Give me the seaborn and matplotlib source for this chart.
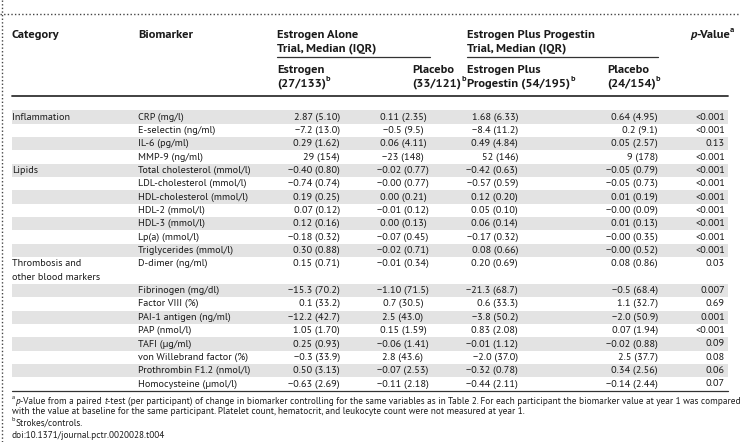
import matplotlib
matplotlib.use("Agg")
import matplotlib.pyplot as plt
from matplotlib.patches import Rectangle
from matplotlib import font_manager as fm
import seaborn as sns

# ---------------- data ----------------
categories = ["Inflammation", "Lipids", "Thrombosis and\nother blood markers"]
category_first_row = [0, 4, 11]

biomarkers = ["CRP (mg/l)", "E-selectin (ng/ml)", "IL-6 (pg/ml)", "MMP-9 (ng/ml)",
              "Total cholesterol (mmol/l)", "LDL-cholesterol (mmol/l)",
              "HDL-cholesterol (mmol/l)", "HDL-2 (mmol/l)", "HDL-3 (mmol/l)",
              "Lp(a) (mmol/l)", "Triglycerides (mmol/l)", "D-dimer (ng/ml)",
              "Fibrinogen (mg/dl)", "Factor VIII (%)", "PAI-1 antigen (ng/ml)",
              "PAP (nmol/l)", "TAFI (\u03bcg/ml)", "von Willebrand factor (%)",
              "Prothrombin F1.2 (nmol/l)", "Homocysteine (\u03bcmol/l)"]

estrogen_alone = ["2.87 (5.10)", "\u22127.2 (13.0)", "0.29 (1.62)", "29 (154)",
                  "\u22120.40 (0.80)", "\u22120.74 (0.74)", "0.19 (0.25)", "0.07 (0.12)",
                  "0.12 (0.16)", "\u22120.18 (0.32)", "0.30 (0.88)", "0.15 (0.71)",
                  "\u221215.3 (70.2)", "0.1 (33.2)", "\u221212.2 (42.7)", "1.05 (1.70)",
                  "0.25 (0.93)", "\u22120.3 (33.9)", "0.50 (3.13)", "\u22120.63 (2.69)"]

placebo_ea = ["0.11 (2.35)", "\u22120.5 (9.5)", "0.06 (4.11)", "\u221223 (148)",
              "\u22120.02 (0.77)", "\u22120.00 (0.77)", "0.00 (0.21)", "\u22120.01 (0.12)",
              "0.00 (0.13)", "\u22120.07 (0.45)", "\u22120.02 (0.71)", "\u22120.01 (0.34)",
              "\u22121.10 (71.5)", "0.7 (30.5)", "2.5 (43.0)", "0.15 (1.59)",
              "\u22120.06 (1.41)", "2.8 (43.6)", "\u22120.07 (2.53)", "\u22120.11 (2.18)"]

estrogen_progestin = ["1.68 (6.33)", "\u22128.4 (11.2)", "0.49 (4.84)", "52 (146)",
                      "\u22120.42 (0.63)", "\u22120.57 (0.59)", "0.12 (0.20)", "0.05 (0.10)",
                      "0.06 (0.14)", "\u22120.17 (0.32)", "0.08 (0.66)", "0.20 (0.69)",
                      "\u221221.3 (68.7)", "0.6 (33.3)", "\u22123.8 (50.2)", "0.83 (2.08)",
                      "\u22120.01 (1.12)", "\u22122.0 (37.0)", "\u22120.32 (0.78)", "\u22120.44 (2.11)"]

placebo_ep = ["0.64 (4.95)", "0.2 (9.1)", "0.05 (2.57)", "9 (178)",
              "\u22120.05 (0.79)", "\u22120.05 (0.73)", "0.01 (0.19)", "\u22120.00 (0.09)",
              "0.01 (0.13)", "\u22120.00 (0.35)", "\u22120.00 (0.52)", "0.08 (0.86)",
              "\u22120.5 (68.4)", "1.1 (32.7)", "\u22122.0 (50.9)", "0.07 (1.94)",
              "\u22120.02 (0.88)", "2.5 (37.7)", "0.34 (2.56)", "\u22120.14 (2.44)"]

p_values = ["<0.001", "<0.001", "0.13", "<0.001", "<0.001", "<0.001", "<0.001",
            "<0.001", "<0.001", "<0.001", "<0.001", "0.03", "0.007", "0.69", "0.001",
            "<0.001", "0.09", "0.08", "0.06", "0.07"]

# row slot of each biomarker (D-dimer occupies two slots)
row_slot = [0, 1, 2, 3, 4, 5, 6, 7, 8, 9, 10, 11, 13, 14, 15, 16, 17, 18, 19, 20]
shaded = [True, False] * 10

# footnote pieces: (text, style) where style is "n" normal, "i" italic, "s" superscript
footnote_lines = [
    [("a", "s"), ("p", "i"), ("-Value from a paired ", "n"), ("t", "i"),
     ("-test (per participant) of change in biomarker controlling for the same variables as in Table 2. "
      "For each participant the biomarker value at year 1 was compared", "n")],
    [("with the value at baseline for the same participant. Platelet count, hematocrit, "
      "and leukocyte count were not measured at year 1.", "n")],
    [("b", "s"), ("Strokes/controls.", "n")],
    [("doi:10.1371/journal.pctr.0020028.t004", "n")],
]

# ---------------- style ----------------
sns.set_style("white")
installed = {f.name for f in fm.fontManager.ttflist}
FONT = "PT Sans" if "PT Sans" in installed else "Lato"
plt.rcParams["font.family"] = [FONT, "DejaVu Sans"]

W, H = 740, 442
fig = plt.figure(figsize=(W / 100, H / 100), dpi=100)
ax = fig.add_axes([0, 0, 1, 1])
ax.set_xlim(0, W)
ax.set_ylim(H, 0)
ax.axis("off")
fig.canvas.draw()
renderer = fig.canvas.get_renderer()

TXT = "#1a1a1a"


def text_width(s, size, **kw):
    t = ax.text(0, 0, s, fontsize=size, **kw)
    w = t.get_window_extent(renderer).width
    t.remove()
    return w


# warm-up measurements
for _ in range(2):
    text_width("Warm up 0.00", 10.0)
    text_width("Warm up 0.00", 10.0, fontweight="bold")


def fit(s, target, **kw):
    size = 10.0
    for _ in range(3):
        size *= target / text_width(s, size, **kw)
    return size


def seq(x, y, pieces, size, weight="normal", draw=True):
    """Draw text pieces one after another; 1 data unit == 1 pixel in x."""
    x0 = x
    for s, st in pieces:
        kw = dict(color=TXT, va="center", fontweight=weight)
        yy, fs = y, size
        if st == "i":
            kw["fontstyle"] = "italic"
        if st == "s":
            fs = size * 0.68
            yy = y - size * 0.45
        t = ax.text(x, yy, s, fontsize=fs, **kw)
        x += t.get_window_extent(renderer).width
        if not draw:
            t.remove()
    return x - x0


# sizes fitted to text widths measured on the reference
BODY = fit("Total cholesterol (mmol/l)", 112)
NUM = fit("\u22120.40 (0.80)", 52)
HEAD = fit("Category", 47, fontweight="bold")
FOOT = 10.0
for _ in range(3):
    FOOT *= 724 / seq(12, 0, footnote_lines[0], FOOT, draw=False)

# dotted frame
ax.plot([0, W], [14, 14], color="#444444", lw=1.0, ls=(0, (1, 1.6)))
ax.plot([2, 2], [0, H], color="#444444", lw=1.0, ls=(0, (1, 1.6)))

# header
hkw = dict(fontsize=HEAD, fontweight="bold", color=TXT, va="center")
ax.text(12, 35, "Category", **hkw)
ax.text(138, 35, "Biomarker", **hkw)
ax.text(277, 35, "Estrogen Alone", **hkw)
ax.text(277, 49, "Trial, Median (IQR)", **hkw)
ax.text(467, 35, "Estrogen Plus Progestin", **hkw)
ax.text(467, 49, "Trial, Median (IQR)", **hkw)
seq(690, 35, [("p", "i"), ("-Value", "n"), ("a", "s")], HEAD, "bold")
ax.plot([277, 430], [57, 57], color="#333333", lw=0.9)
ax.plot([467, 658], [57, 57], color="#333333", lw=0.9)

ax.text(277, 70, "Estrogen", **hkw)
seq(277, 84, [("(27/133)", "n"), ("b", "s")], HEAD, "bold")
ax.text(412, 70, "Placebo", **hkw)
seq(412, 84, [("(33/121)", "n"), ("b", "s")], HEAD, "bold")
ax.text(467, 70, "Estrogen Plus", **hkw)
seq(467, 84, [("Progestin (54/195)", "n"), ("b", "s")], HEAD, "bold")
ax.text(607, 70, "Placebo", **hkw)
seq(607, 84, [("(24/154)", "n"), ("b", "s")], HEAD, "bold")
ax.plot([12, 728], [96, 96], color="#333333", lw=1.3)

# body
Y0, DY = 117.0, 13.35
for i, slot in enumerate(row_slot):
    y = Y0 + slot * DY
    if shaded[i]:
        ax.add_patch(Rectangle((12, y - DY / 2), 716, DY, facecolor="#e3e3e3",
                               edgecolor="none", zorder=0))
    bkw = dict(fontsize=BODY, color=TXT, va="center")
    nkw = dict(fontsize=NUM, color=TXT, va="center")
    ax.text(138, y, biomarkers[i], **bkw)
    ax.text(340, y, estrogen_alone[i], ha="right", **nkw)
    ax.text(403, y, placebo_ea[i], ha="center", **nkw)
    ax.text(518, y, estrogen_progestin[i], ha="right", **nkw)
    ax.text(658, y, placebo_ep[i], ha="right", **nkw)
    ax.text(725, y, p_values[i], ha="right", **nkw)

for cat, r in zip(categories, category_first_row):
    for k, line in enumerate(cat.split("\n")):
        ax.text(12, Y0 + (r + k) * DY, line, fontsize=BODY, color=TXT, va="center")

ax.plot([12, 728], [Y0 + 20.5 * DY, Y0 + 20.5 * DY], color="#333333", lw=0.9)

# footnotes
fy = [401, 412, 423, 435]
for pieces, y in zip(footnote_lines, fy):
    seq(12, y, pieces, FOOT)

fig.savefig("out.png", dpi=100)
